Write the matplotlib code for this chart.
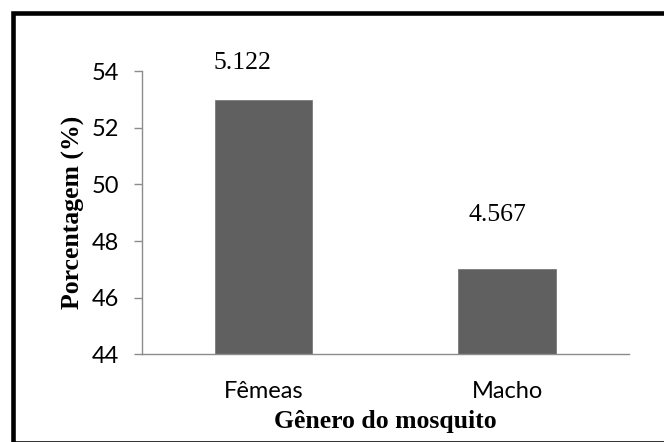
import matplotlib.pyplot as plt
from matplotlib.patches import Rectangle

# data
categories = ['Fêmeas', 'Macho']
percent = [53.0, 47.0]
count_labels = ['5.122', '4.567']
# label offsets relative to bar (x in category units, y in %)
label_dx = [-0.086, -0.038]
label_dy = [1.28, 1.92]

fig = plt.figure(figsize=(6.64, 4.42), dpi=100)
ax = fig.add_axes([0.2134, 0.1984, 0.7339, 0.6403])

x = range(len(categories))
ax.bar(x, percent, width=0.4, color='#606060', edgecolor='#7a7a7a', linewidth=0.6, zorder=2)

ax.set_xlim(-0.5, 1.5)
ax.set_ylim(44, 54)
ax.set_yticks([44, 46, 48, 50, 52, 54])
ax.set_xticks(list(x))
ax.set_xticklabels(categories)

for s in ['top', 'right']:
    ax.spines[s].set_visible(False)
for s in ['left', 'bottom']:
    ax.spines[s].set_color('#8c8c8c')
    ax.spines[s].set_linewidth(1.0)

ax.tick_params(axis='y', length=6, color='#8c8c8c', width=1.0, pad=10,
               labelsize=17, labelfontfamily='Lato')
ax.tick_params(axis='x', length=0, pad=19, labelsize=17, labelfontfamily='Lato')

ax.set_ylabel('Porcentagem (%)', family='Liberation Serif', fontweight='bold',
              fontsize=18.5, labelpad=5)
ax.set_xlabel('Gênero do mosquito', family='Liberation Serif', fontweight='bold',
              fontsize=18.5, labelpad=6)

for i, lab in enumerate(count_labels):
    ax.text(i + label_dx[i], percent[i] + label_dy[i], lab, ha='center', va='center',
            family='Liberation Serif', fontsize=18.5, clip_on=False)

# outer frame (right/bottom partly cut off as in the reference)
fig.patches.append(Rectangle((12.5, -0.6), 700, 430.1, transform=None,
                             fill=False, edgecolor='black', linewidth=3.3))

fig.savefig('out.png', dpi=100)
